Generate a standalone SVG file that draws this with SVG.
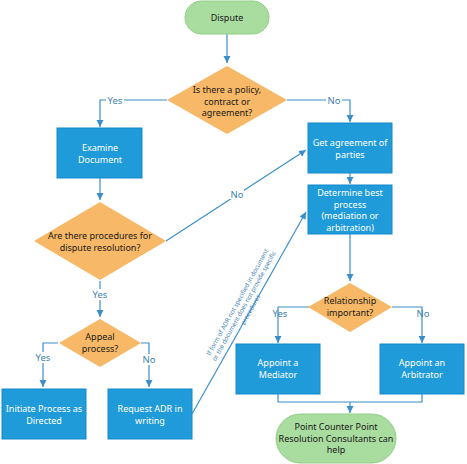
<svg xmlns="http://www.w3.org/2000/svg" width="467" height="464" viewBox="0 0 467 464">
<defs>
<marker id="ah" markerWidth="8" markerHeight="8" refX="7" refY="4" orient="auto" markerUnits="userSpaceOnUse">
<path d="M0,0.5 L7,4 L0,7.5 Z" fill="#3a8fc8"/>
</marker>
<style>
.t{font-family:"Noto Sans","Open Sans",sans-serif;font-size:9px;text-anchor:middle}
.term{fill:#a9dc9f;stroke:#8fcf86;stroke-width:1}
.proc{fill:#1f9bd9;stroke:#178acb;stroke-width:1}
.dec{fill:#f7b867}
.wt{fill:#ffffff}
.dt{fill:#1a1a1a}
.c{fill:none;stroke:#3a8fc8;stroke-width:1.2}
.lbl{font-family:"Noto Sans","Open Sans",sans-serif;font-size:9.5px;text-anchor:middle;fill:#3f7fae}
.rl{font-family:"Noto Sans","Open Sans",sans-serif;font-size:6.3px;text-anchor:middle;fill:#4a86b4}
</style>
</defs>
<rect width="467" height="464" fill="#ffffff"/>
<g id="connectors">
<path class="c" d="M227,34 V63" marker-end="url(#ah)"/>
<path class="c" d="M167,100 H100 V127" marker-end="url(#ah)"/>
<path class="c" d="M287,100 H350 V122" marker-end="url(#ah)"/>
<path class="c" d="M100,178 V200" marker-end="url(#ah)"/>
<path class="c" d="M166,241 L306,150" marker-end="url(#ah)"/>
<path class="c" d="M350,173 V184" marker-end="url(#ah)"/>
<path class="c" d="M100,281 V317" marker-end="url(#ah)"/>
<path class="c" d="M58,343 H43 V387" marker-end="url(#ah)"/>
<path class="c" d="M141,343 H149 V387" marker-end="url(#ah)"/>
<path class="c" d="M192,414 L306,212" marker-end="url(#ah)"/>
<path class="c" d="M350,234 V281" marker-end="url(#ah)"/>
<path class="c" d="M309,307 H278 V343" marker-end="url(#ah)"/>
<path class="c" d="M392,307 H422 V343" marker-end="url(#ah)"/>
<path class="c" d="M278,394 V402 H422 V394"/>
<path class="c" d="M350,402 V413" marker-end="url(#ah)"/>
<rect x="106" y="95" width="18" height="11" fill="#ffffff"/>
<text class="lbl" x="115" y="104">Yes</text>
<rect x="326" y="95" width="16" height="11" fill="#ffffff"/>
<text class="lbl" x="334" y="104">No</text>
<rect x="228" y="188" width="16" height="11" fill="#ffffff"/>
<text class="lbl" x="237" y="198">No</text>
<rect x="90" y="289" width="20" height="11" fill="#ffffff"/>
<text class="lbl" x="100" y="298">Yes</text>
<rect x="33" y="352" width="20" height="11" fill="#ffffff"/>
<text class="lbl" x="43" y="361">Yes</text>
<rect x="141" y="354" width="16" height="11" fill="#ffffff"/>
<text class="lbl" x="149" y="363">No</text>
<text class="lbl" x="280" y="317">Yes</text>
<text class="lbl" x="423" y="317">No</text>
<g transform="translate(244,306) rotate(-61)">
<text class="rl" x="0" y="-5.4">If form of ADR not specified in document</text>
<text class="rl" x="0" y="2.2">or the document does not provide specific</text>
<text class="rl" x="0" y="9.6">procedures</text>
</g>
</g>
<g id="dispute">
<rect class="term" x="185" y="1" width="84" height="33" rx="16.5"/>
<text class="t dt" x="227" y="21">Dispute</text>
</g>
<g id="policy">
<path class="dec" d="M227,66 L287,100 L227,134 L167,100 Z"/>
<text class="t dt" x="227" y="93">Is there a policy,</text>
<text class="t dt" x="227" y="104.5">contract or</text>
<text class="t dt" x="227" y="116">agreement?</text>
</g>
<g id="examine">
<rect class="proc" x="57" y="128" width="85" height="50"/>
<text class="t wt" x="100" y="151">Examine</text>
<text class="t wt" x="100" y="162.5">Document</text>
</g>
<g id="procedures">
<path class="dec" d="M100,202 L166,241 L100,280 L34,241 Z"/>
<text class="t dt" x="100" y="239">Are there procedures for</text>
<text class="t dt" x="100" y="250.5">dispute resolution?</text>
</g>
<g id="appeal">
<path class="dec" d="M100,319 L141,343 L100,367 L59,343 Z"/>
<text class="t dt" x="100" y="340">Appeal</text>
<text class="t dt" x="100" y="351.5">process?</text>
</g>
<g id="initiate">
<rect class="proc" x="2" y="389" width="84" height="50"/>
<text class="t wt" x="44" y="412">Initiate Process as</text>
<text class="t wt" x="44" y="423.5">Directed</text>
</g>
<g id="request">
<rect class="proc" x="108" y="389" width="84" height="50"/>
<text class="t wt" x="150" y="412">Request ADR in</text>
<text class="t wt" x="150" y="423.5">writing</text>
</g>
<g id="agreement">
<rect class="proc" x="308" y="123" width="84" height="50"/>
<text class="t wt" x="350" y="146">Get agreement of</text>
<text class="t wt" x="350" y="157.5">parties</text>
</g>
<g id="determine">
<rect class="proc" x="308" y="185" width="84" height="49"/>
<text class="t wt" x="350" y="196">Determine best</text>
<text class="t wt" x="350" y="207.5">process</text>
<text class="t wt" x="350" y="219">(mediation or</text>
<text class="t wt" x="350" y="230.5">arbitration)</text>
</g>
<g id="relationship">
<path class="dec" d="M350,283 L392,307 L350,332 L308,307 Z"/>
<text class="t dt" x="350" y="304">Relationship</text>
<text class="t dt" x="350" y="315.5">important?</text>
</g>
<g id="mediator">
<rect class="proc" x="236" y="344" width="84" height="50"/>
<text class="t wt" x="278" y="366">Appoint a</text>
<text class="t wt" x="278" y="377.5">Mediator</text>
</g>
<g id="arbitrator">
<rect class="proc" x="380" y="344" width="84" height="50"/>
<text class="t wt" x="422" y="366">Appoint an</text>
<text class="t wt" x="422" y="377.5">Arbitrator</text>
</g>
<g id="pcp">
<rect class="term" x="276" y="414" width="120" height="49" rx="24.5"/>
<text class="t dt" x="336" y="430">Point Counter Point</text>
<text class="t dt" x="336" y="441.5">Resolution Consultants can</text>
<text class="t dt" x="336" y="453">help</text>
</g>
</svg>
